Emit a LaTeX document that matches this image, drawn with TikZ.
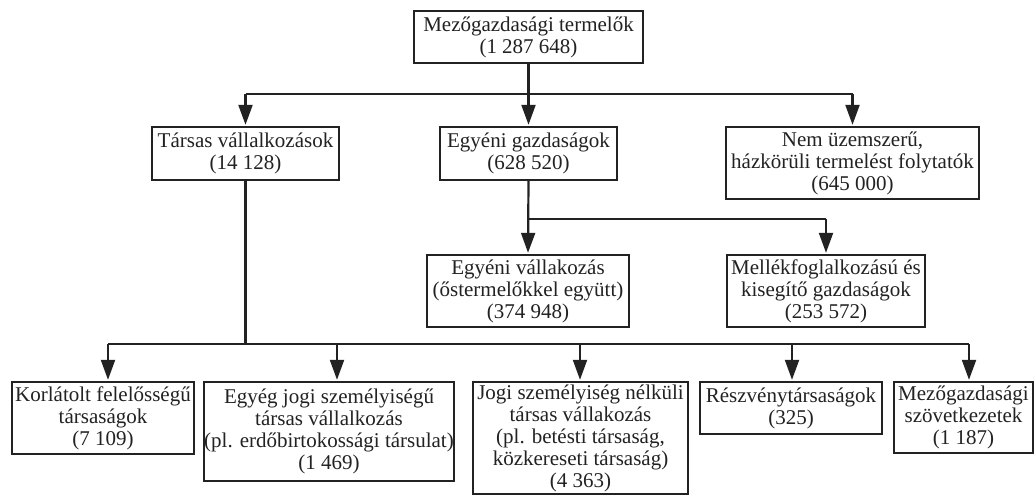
\documentclass[tikz,border=0pt]{standalone}
\usepackage{fontspec}
\setmainfont{Liberation Serif}
\usetikzlibrary{arrows.meta}
\definecolor{ink}{HTML}{222222}
\tikzset{
  box/.style={draw=ink, line width=2.4pt, fill=white, inner sep=0pt, align=center,
    font=\fontsize{21}{22}\selectfont, text=ink},
  conn/.style={draw=ink, line width=2.2pt},
  arr/.style={conn, -{Triangle[length=20pt,width=14pt]}, shorten >=1pt}
}
\begin{document}
\begin{tikzpicture}[x=1pt,y=-1pt]
\useasboundingbox (0,0) rectangle (1036,496);
% nodes
\node[box, minimum width=229pt, minimum height=52pt] (top) at (528.5,37) {Mezőgazdasági termelők\\(1 287 648)};
\node[box, minimum width=187pt, minimum height=53pt] (tarsas) at (245.5,153.5) {Társas vállalkozások\\(14 128)};
\node[box, minimum width=177pt, minimum height=53pt] (egyg) at (528.5,153.5) {Egyéni gazdaságok\\(628 520)};
\node[box, minimum width=253pt, minimum height=72pt] (nem) at (852.5,163) {Nem üzemszerű,\\házkörüli termelést folytatók\\(645 000)};
\node[box, minimum width=202pt, minimum height=72pt] (egyv) at (528,291) {Egyéni vállakozás\\(őstermelőkkel együtt)\\(374 948)};
\node[box, minimum width=198pt, minimum height=72pt] (mellek) at (826,291) {Mellékfoglalkozású és\\kisegítő gazdaságok\\(253 572)};
\node[box, minimum width=182pt, minimum height=72pt] (korl) at (103,418) {Korlátolt felelősségű\\társaságok\\(7 109)};
\node[box, minimum width=244pt, minimum height=99pt] (egyeg) at (329,431.5) {Egyég jogi személyiségű\\társas vállalkozás\\(pl. erdőbirtokossági társulat)\\(1 469)};
\node[box, minimum width=215pt, minimum height=112pt] (jogi) at (580.5,438) {Jogi személyiség nélküli\\társas vállakozás\\(pl. betésti társaság,\\közkereseti társaság)\\(4 363)};
\node[box, minimum width=182pt, minimum height=52pt] (reszv) at (791,408) {Részvénytársaságok\\(325)};
\node[box, minimum width=139pt, minimum height=71pt] (mezo) at (963.5,417.5) {Mezőgazdasági\\szövetkezetek\\(1 187)};
% bus coordinates
\coordinate (b1l) at (245.5,94);
\coordinate (b1m) at (528.5,94);
\coordinate (b1r) at (852.5,94);
\coordinate (b2m) at (528.5,219);
\coordinate (b2r) at (826,219);
\coordinate (b3t) at (245.5,344);
\coordinate (b3a) at (108,344);
\coordinate (b3b) at (337,344);
\coordinate (b3c) at (580,344);
\coordinate (b3d) at (792,344);
\coordinate (b3e) at (969,344);
% level 1
\draw[conn] (top.south) -- (b1m);
\draw[conn] (b1l) -- (b1r);
\draw[arr] (b1l) -- (tarsas.north);
\draw[arr] (b1m) -- (egyg.north);
\draw[arr] (b1r) -- (nem.north);
% level 2
\draw[arr] (egyg.south) -- (egyv.north);
\draw[conn] (b2m) -- (b2r);
\draw[arr] (b2r) -- (mellek.north);
% level 3
\draw[conn] (tarsas.south) -- (b3t);
\draw[conn] (b3a) -- (b3e);
\draw[arr] (b3a) -- (b3a |- korl.north);
\draw[arr] (b3b) -- (b3b |- egyeg.north);
\draw[arr] (b3c) -- (b3c |- jogi.north);
\draw[arr] (b3d) -- (b3d |- reszv.north);
\draw[arr] (b3e) -- (b3e |- mezo.north);
\end{tikzpicture}
\end{document}
